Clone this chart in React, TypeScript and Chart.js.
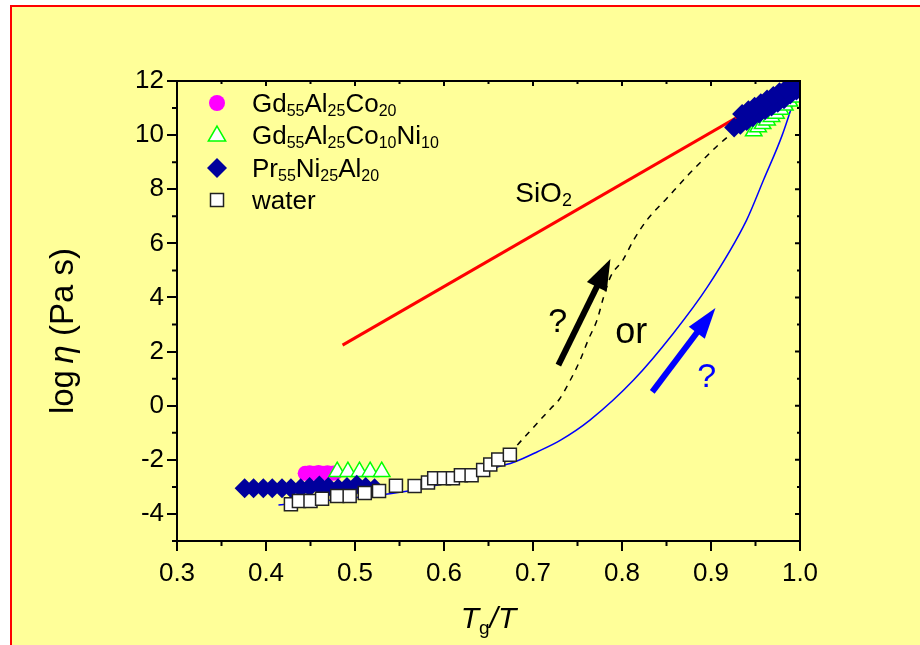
import React, { useEffect, useRef } from 'react';
import { Chart, registerables } from 'chart.js';

Chart.register(...registerables);

const FONT = '"Liberation Sans", Arial, Helvetica, sans-serif';

// ---- axis ticks ----
const xTicks = [0.3, 0.4, 0.5, 0.6, 0.7, 0.8, 0.9, 1.0];
const xMinor = [0.35, 0.45, 0.55, 0.65, 0.75, 0.85, 0.95];
const yTicks = [-4, -2, 0, 2, 4, 6, 8, 10, 12];
const yMinor = [-5, -3, -1, 1, 3, 5, 7, 9, 11];

// ---- water (open squares) ----
const waterX = [0.428, 0.437, 0.450, 0.463, 0.480, 0.494, 0.511, 0.527, 0.546, 0.567, 0.582, 0.589, 0.600, 0.610, 0.619, 0.631, 0.644, 0.652, 0.661, 0.674];
const waterY = [-3.64, -3.52, -3.52, -3.44, -3.34, -3.34, -3.23, -3.15, -2.96, -2.97, -2.84, -2.68, -2.68, -2.68, -2.57, -2.57, -2.38, -2.17, -1.99, -1.81];

// ---- Pr55Ni25Al20 (diamonds) ----
const prX = [0.376, 0.386, 0.397, 0.407, 0.418, 0.428, 0.439, 0.449, 0.460, 0.470, 0.481, 0.491, 0.502, 0.512, 0.522,
  0.926, 0.933, 0.940, 0.947, 0.954, 0.961, 0.968, 0.975, 0.982, 0.989, 0.996, 1.0,
  0.935, 0.942, 0.949, 0.956, 0.963, 0.970, 0.977, 0.984, 0.991, 0.998];
const prY = [-3.05, -3.05, -3.05, -3.05, -3.05, -3.05, -3.05, -3.0, -2.95, -3.0, -3.05, -3.0, -2.92, -3.0, -3.05,
  10.28, 10.38, 10.52, 10.66, 10.80, 10.93, 11.06, 11.20, 11.33, 11.50, 11.65, 11.75,
  10.78, 10.92, 11.05, 11.18, 11.32, 11.45, 11.58, 11.70, 11.80, 11.88];

// ---- Gd55Al25Co10Ni10 (open triangles) ----
const gdNiX = [0.480, 0.492, 0.505, 0.517, 0.530,
  0.948, 0.953, 0.958, 0.963, 0.968, 0.973, 0.978, 0.983, 0.988, 0.993, 0.998];
const gdNiY = [-2.44, -2.44, -2.44, -2.44, -2.44,
  10.15, 10.30, 10.42, 10.55, 10.68, 10.80, 10.95, 11.10, 11.25, 11.40, 11.60];

// ---- Gd55Al25Co20 (filled circles) ----
const gdCoX = [0.444, 0.449, 0.454, 0.459, 0.464, 0.469, 0.474, 0.478];
const gdCoY = [-2.50, -2.48, -2.50, -2.47, -2.50, -2.48, -2.50, -2.48];

// ---- SiO2 (Arrhenius line) ----
const sio2X = [0.486, 1.0];
const sio2Y = [2.24, 12.0];

// ---- dashed curve ----
const dashX = [0.674, 0.680, 0.695, 0.708, 0.720, 0.729, 0.742, 0.753, 0.762, 0.772, 0.779, 0.787, 0.801, 0.813, 0.828, 0.850, 0.875, 0.893, 0.908, 0.924];
const dashY = [-1.81, -1.55, -1.00, -0.53, -0.10, 0.21, 0.95, 1.69, 2.43, 3.17, 3.98, 4.76, 5.38, 6.12, 6.86, 7.65, 8.55, 9.15, 9.63, 10.08];

// ---- blue solid curve ----
const blueX = [0.414, 0.450, 0.500, 0.560, 0.600, 0.633, 0.656, 0.680, 0.705, 0.731, 0.764, 0.813, 0.858, 0.896, 0.940, 0.959, 0.980, 1.0];
const blueY = [-3.67, -3.56, -3.40, -3.15, -2.87, -2.60, -2.31, -2.07, -1.70, -1.27, -0.53, 0.95, 2.69, 4.39, 6.86, 8.34, 10.0, 12.0];

// ---- annotations (data coordinates) ----
const blackArrow = [0.7285, 1.5, 0.787, 5.42];
const blueArrow = [0.834, 0.51, 0.905, 3.61];
const sio2Label = [0.680, 7.54];
const orLabel = [0.7925, 2.32];
const qBlackLabel = [0.717, 2.72];
const qBlueLabel = [0.8845, 0.69];

const NAVY = '#00009C';
const GREEN = '#00FF00';
const MAGENTA = '#FF00FF';

const pts = (xs: number[], ys: number[]) => xs.map((x, i) => ({ x, y: ys[i] }));

type Seg = { t: string; size: number; italic?: boolean; dy?: number };

function rich(ctx: CanvasRenderingContext2D, segs: Seg[], x: number, y: number, align: 'left' | 'center', color = '#000') {
  let total = 0;
  const ws = segs.map((s) => {
    ctx.font = `${s.italic ? 'italic ' : ''}${s.size}px ${FONT}`;
    const w = ctx.measureText(s.t).width;
    total += w;
    return w;
  });
  let cx = align === 'center' ? x - total / 2 : x;
  ctx.fillStyle = color;
  ctx.textAlign = 'left';
  ctx.textBaseline = 'alphabetic';
  segs.forEach((s, i) => {
    ctx.font = `${s.italic ? 'italic ' : ''}${s.size}px ${FONT}`;
    ctx.fillText(s.t, cx, y + (s.dy || 0));
    cx += ws[i];
  });
}

function arrow(ctx: CanvasRenderingContext2D, x0: number, y0: number, x1: number, y1: number, color: string, lw: number, hl: number, hw: number) {
  const ang = Math.atan2(y1 - y0, x1 - x0);
  const bx = x1 - Math.cos(ang) * hl;
  const by = y1 - Math.sin(ang) * hl;
  ctx.strokeStyle = color;
  ctx.fillStyle = color;
  ctx.lineWidth = lw;
  ctx.lineCap = 'butt';
  ctx.beginPath();
  ctx.moveTo(x0, y0);
  ctx.lineTo(bx + Math.cos(ang) * 2, by + Math.sin(ang) * 2);
  ctx.stroke();
  ctx.beginPath();
  ctx.moveTo(x1, y1);
  ctx.lineTo(bx + Math.sin(ang) * hw, by - Math.cos(ang) * hw);
  ctx.lineTo(bx - Math.sin(ang) * hw, by + Math.cos(ang) * hw);
  ctx.closePath();
  ctx.fill();
}

const decor = {
  id: 'decor',
  afterDraw(chart: any) {
    const { ctx, chartArea: a, scales } = chart;
    const xs = scales.x;
    const ys = scales.y;
    const px = (v: number) => xs.getPixelForValue(v);
    const py = (v: number) => ys.getPixelForValue(v);
    ctx.save();
    ctx.strokeStyle = '#000';
    ctx.lineWidth = 2;
    // top and right frame lines
    ctx.beginPath();
    ctx.moveTo(a.left - 1, a.top);
    ctx.lineTo(a.right, a.top);
    ctx.lineTo(a.right, a.bottom);
    ctx.stroke();
    // minor outward ticks
    ctx.beginPath();
    yMinor.forEach((v) => { ctx.moveTo(a.left, py(v)); ctx.lineTo(a.left - 5, py(v)); });
    xMinor.forEach((v) => { ctx.moveTo(px(v), a.bottom); ctx.lineTo(px(v), a.bottom + 5); });
    // inward ticks on top / right
    xTicks.forEach((v) => { ctx.moveTo(px(v), a.top); ctx.lineTo(px(v), a.top + 5); });
    xMinor.forEach((v) => { ctx.moveTo(px(v), a.top); ctx.lineTo(px(v), a.top + 3); });
    yTicks.forEach((v) => { ctx.moveTo(a.right, py(v)); ctx.lineTo(a.right - 5, py(v)); });
    yMinor.forEach((v) => { ctx.moveTo(a.right, py(v)); ctx.lineTo(a.right - 3, py(v)); });
    ctx.stroke();

    // axis titles
    rich(ctx, [
      { t: 'T', size: 30, italic: true },
      { t: 'g', size: 19, dy: 6 },
      { t: '/', size: 30, italic: true },
      { t: 'T', size: 30, italic: true },
    ], (a.left + a.right) / 2, 628, 'center');
    ctx.save();
    ctx.translate(73, 331);
    ctx.rotate(-Math.PI / 2);
    rich(ctx, [
      { t: 'log', size: 33 },
      { t: '\u2009', size: 33 },
      { t: '\u03B7', size: 33, italic: true },
      { t: ' (Pa s)', size: 33 },
    ], 0, 0, 'center');
    ctx.restore();

    // legend
    const lx = 217;
    const tx = 252;
    ctx.fillStyle = MAGENTA;
    ctx.beginPath(); ctx.arc(lx, 103, 8, 0, Math.PI * 2); ctx.fill();
    const tr = 10, tcy = 136;
    ctx.beginPath();
    ctx.moveTo(lx, tcy - tr);
    ctx.lineTo(lx + tr * Math.sin(2 * Math.PI / 3), tcy + tr * 0.5);
    ctx.lineTo(lx - tr * Math.sin(2 * Math.PI / 3), tcy + tr * 0.5);
    ctx.closePath();
    ctx.fillStyle = '#fff'; ctx.fill();
    ctx.strokeStyle = GREEN; ctx.lineWidth = 1.5; ctx.stroke();
    const dr = 10, dcy = 168;
    ctx.beginPath();
    ctx.moveTo(lx - dr, dcy); ctx.lineTo(lx, dcy - dr); ctx.lineTo(lx + dr, dcy); ctx.lineTo(lx, dcy + dr);
    ctx.closePath();
    ctx.fillStyle = NAVY; ctx.fill();
    ctx.fillStyle = '#fff'; ctx.fillRect(lx - 6.5, 200 - 6.5, 13, 13);
    ctx.strokeStyle = '#222'; ctx.lineWidth = 1.5; ctx.strokeRect(lx - 6.5, 200 - 6.5, 13, 13);

    const S = 26, s = 16, d = 4;
    rich(ctx, [{ t: 'Gd', size: S }, { t: '55', size: s, dy: d }, { t: 'Al', size: S }, { t: '25', size: s, dy: d }, { t: 'Co', size: S }, { t: '20', size: s, dy: d }], tx, 112, 'left');
    rich(ctx, [{ t: 'Gd', size: S }, { t: '55', size: s, dy: d }, { t: 'Al', size: S }, { t: '25', size: s, dy: d }, { t: 'Co', size: S }, { t: '10', size: s, dy: d }, { t: 'Ni', size: S }, { t: '10', size: s, dy: d }], tx, 144, 'left');
    rich(ctx, [{ t: 'Pr', size: S }, { t: '55', size: s, dy: d }, { t: 'Ni', size: S }, { t: '25', size: s, dy: d }, { t: 'Al', size: S }, { t: '20', size: s, dy: d }], tx, 177, 'left');
    rich(ctx, [{ t: 'water', size: S }], tx, 209, 'left');

    // text annotations
    rich(ctx, [{ t: 'SiO', size: 28 }, { t: '2', size: 18, dy: 4 }], px(sio2Label[0]), py(sio2Label[1]), 'left');
    rich(ctx, [{ t: 'or', size: 36 }], px(orLabel[0]), py(orLabel[1]), 'left');
    rich(ctx, [{ t: '?', size: 34 }], px(qBlackLabel[0]), py(qBlackLabel[1]), 'left');
    rich(ctx, [{ t: '?', size: 34 }], px(qBlueLabel[0]), py(qBlueLabel[1]), 'left', '#0000FF');

    // arrows
    arrow(ctx, px(blackArrow[0]), py(blackArrow[1]), px(blackArrow[2]), py(blackArrow[3]), '#000', 6, 31, 11);
    arrow(ctx, px(blueArrow[0]), py(blueArrow[1]), px(blueArrow[2]), py(blueArrow[3]), '#0000FF', 6, 31, 10);
    ctx.restore();
  },
};

export default function App() {
  const ref = useRef<HTMLCanvasElement | null>(null);
  useEffect(() => {
    const tickFont = { family: FONT, size: 26 };
    const chart = new Chart(ref.current as HTMLCanvasElement, {
      type: 'scatter',
      data: {
        datasets: [
          {
            label: 'water', data: pts(waterX, waterY), pointStyle: 'rect', pointRadius: 9.2,
            backgroundColor: '#fff', borderColor: '#222', borderWidth: 1.5, showLine: false, clip: 0,
          } as any,
          {
            label: 'Pr55Ni25Al20', data: pts(prX, prY), pointStyle: 'rectRot', pointRadius: 10,
            backgroundColor: NAVY, borderColor: NAVY, borderWidth: 0, showLine: false, clip: 0,
          },
          {
            label: 'Gd55Al25Co10Ni10', data: pts(gdNiX, gdNiY), pointStyle: 'triangle', pointRadius: 9.5,
            backgroundColor: '#fff', borderColor: GREEN, borderWidth: 1.5, showLine: false, clip: 0,
          },
          {
            label: 'Gd55Al25Co20', data: pts(gdCoX, gdCoY), pointStyle: 'circle', pointRadius: 7.5,
            backgroundColor: MAGENTA, borderColor: MAGENTA, borderWidth: 0, showLine: false, clip: 0,
          },
          {
            label: 'SiO2', data: pts(sio2X, sio2Y), showLine: true, pointRadius: 0,
            borderColor: '#FF0000', borderWidth: 3, clip: 0,
          },
          {
            label: 'dashed', data: pts(dashX, dashY), showLine: true, pointRadius: 0,
            borderColor: '#000', borderWidth: 1.5, borderDash: [6, 6], cubicInterpolationMode: 'monotone', clip: 0,
          },
          {
            label: 'blue', data: pts(blueX, blueY), showLine: true, pointRadius: 0,
            borderColor: '#0000FF', borderWidth: 1.5, cubicInterpolationMode: 'monotone', clip: 0,
          },
        ],
      },
      options: {
        responsive: false,
        animation: false,
        devicePixelRatio: 1,
        events: [],
        layout: { padding: { left: 0, top: 81, right: 120, bottom: 0 } },
        plugins: { legend: { display: false }, tooltip: { enabled: false } },
        scales: {
          x: {
            type: 'linear', min: 0.3, max: 1.0,
            afterBuildTicks: (s: any) => { s.ticks = xTicks.map((v) => ({ value: v })); },
            afterFit: (s: any) => { s.height = 104; },
            ticks: { callback: (v: any) => Number(v).toFixed(1), font: tickFont, color: '#000', padding: 7, maxRotation: 0, autoSkip: false },
            grid: { drawOnChartArea: false, drawTicks: true, tickLength: 10, color: '#000', lineWidth: 2 },
            border: { display: true, color: '#000', width: 2 },
          },
          y: {
            type: 'linear', min: -5, max: 12,
            afterBuildTicks: (s: any) => { s.ticks = yTicks.map((v) => ({ value: v })); },
            afterFit: (s: any) => { s.width = 177; },
            ticks: { callback: (v: any) => String(v), font: tickFont, color: '#000', padding: 3, autoSkip: false },
            grid: { drawOnChartArea: false, drawTicks: true, tickLength: 10, color: '#000', lineWidth: 2 },
            border: { display: true, color: '#000', width: 2 },
          },
        },
      } as any,
      plugins: [decor],
    });
    return () => chart.destroy();
  }, []);

  return (
    <div style={{ position: 'fixed', left: 0, top: 0, width: 920, height: 645, overflow: 'hidden', background: '#fff' }}>
      <div style={{ position: 'absolute', left: 10, top: 5, width: 960, height: 700, background: '#FFFF99', borderTop: '2px solid #FF0000', borderLeft: '2px solid #FF0000', boxSizing: 'border-box' }} />
      <canvas ref={ref} width={920} height={645} style={{ position: 'absolute', left: 0, top: 0 }} />
    </div>
  );
}
